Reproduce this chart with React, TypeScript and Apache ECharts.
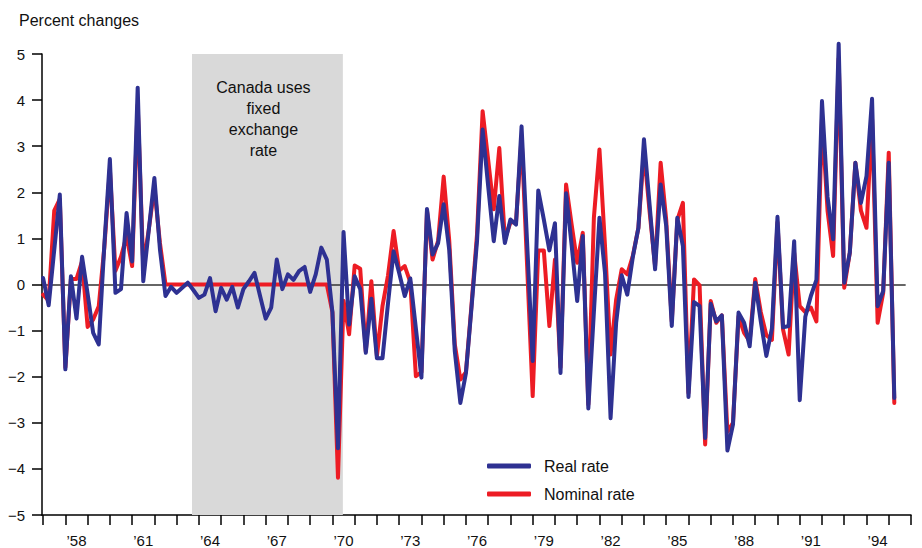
import React, { useEffect, useRef } from "react";
import * as echarts from "echarts";

const FONT = '"Liberation Sans", Arial, Helvetica, sans-serif';
const BLUE = "#2e3192";
const RED = "#ed1c24";

// Quarterly observations, first quarter 1957 onward
const FIRST_YEAR = 1957;

const realRate = [
  0.14, -0.45, 0.75, 1.95, -1.84, 0.18, -0.74, 0.6, -0.2, -1.05,
  -1.3, 0.85, 2.72, -0.18, -0.1, 1.55, 0.5, 4.27, 0.07, 1.19,
  2.31, 0.76, -0.25, -0.05, -0.18, -0.07, 0.04, -0.12, -0.29, -0.22,
  0.14, -0.58, -0.07, -0.33, -0.05, -0.5, -0.1, 0.07, 0.25, -0.25,
  -0.74, -0.5, 0.54, -0.1, 0.22, 0.1, 0.29, 0.38, -0.16, 0.22,
  0.8, 0.54, -0.6, -3.55, 1.14, -0.87, 0.18, -0.1, -1.48, -0.31,
  -1.6, -1.6, -0.4, 0.72, 0.25, -0.25, 0.13, -0.95, -2.02, 1.64,
  0.65, 0.9, 1.74, 0.75, -1.45, -2.57, -1.92, -0.5, 0.95, 3.36,
  2.13, 0.94, 1.92, 0.9, 1.41, 1.3, 3.43, 0.9, -1.66, 2.04,
  1.41, 0.74, 1.33, -1.92, 1.98, 0.85, -0.36, 1.05, -2.69, -0.6,
  1.45, 0.25, -2.9, -0.83, 0.2, -0.22, 0.6, 1.23, 3.15, 1.75,
  0.33, 2.17, 1.27, -0.9, 1.45, 0.83, -2.44, -0.38, -0.47, -3.33,
  -0.42, -0.8, -0.67, -3.6, -3.04, -0.61, -0.83, -1.34, 0.04, -0.8,
  -1.55, -0.95, 1.47, -0.93, -0.9, 0.94, -2.51, -0.7, -0.25, 0.1,
  3.98, 1.9, 0.98, 5.22, 0.04, 0.69, 2.64, 1.77, 2.35, 4.03,
  -0.47, -0.14, 2.64, -2.46,
];

const nominalRate = [
  -0.22, -0.35, 1.6, 1.85, -1.8, 0.12, 0.12, 0.5, -0.92, -0.76,
  -0.47, 0.8, 2.5, 0.3, 0.6, 1.05, 0.4, 3.9, 0.4, 1.2,
  2.1, 0.9, 0, 0, 0, 0, 0, 0, 0, 0,
  0, 0, 0, 0, 0, 0, 0, 0, 0, 0,
  0, 0, 0, 0, 0, 0, 0, 0, 0, 0,
  0, 0, -0.6, -4.19, -0.35, -1.08, 0.41, 0.34, -1.45, 0.07,
  -1.55, -0.47, 0.2, 1.16, 0.3, 0.4, 0.05, -1.99, -1.9, 1.6,
  0.54, 0.95, 2.34, 0.95, -1.3, -2.06, -1.9, -0.45, 1.1, 3.76,
  2.7, 1.63, 2.96, 0.98, 1.35, 1.35, 3.2, 0.4, -2.42, 0.74,
  0.74, -0.9, 0.54, -1.8, 2.17, 1.3, 0.47, 1.12, -2.6, 1.45,
  2.93, 0.83, -1.52, -0.33, 0.33, 0.22, 0.62, 1.23, 2.9, 1.6,
  0.4, 2.64, 1.4, -0.8, 1.4, 1.77, -2.35, 0.11, -0.02, -3.47,
  -0.36, -0.83, -0.67, -3.2, -3.0, -0.69, -1.05, -1.23, 0.12, -0.6,
  -1.1, -1.2, 1.35, -0.98, -1.52, 0.69, -0.47, -0.6, -0.5, -0.8,
  3.6, 1.6, 0.62, 4.9, -0.07, 0.69, 2.64, 1.6, 1.23, 3.6,
  -0.83, -0.18, 2.86, -2.57,
];

const tickYears = [
  1957, 1958, 1959, 1960, 1961, 1962, 1963, 1964, 1965, 1966,
  1967, 1968, 1969, 1970, 1971, 1972, 1973, 1974, 1975, 1976,
  1977, 1978, 1979, 1980, 1981, 1982, 1983, 1984, 1985, 1986,
  1987, 1988, 1989, 1990, 1991, 1992, 1993, 1994, 1995, 1996,
];
const labelYears = [1958, 1961, 1964, 1967, 1970, 1973, 1976, 1979, 1982, 1985, 1988, 1991, 1994];

const fixedRatePeriod = [1963.69, 1970.47];
const fixedRateNote = "Canada uses\nfixed\nexchange\nrate";

const X_MIN = 1956.95;
const X_MAX = 1996;

export default function App() {
  const ref = useRef<HTMLDivElement>(null);

  useEffect(() => {
    if (!ref.current) return;
    const chart = echarts.init(ref.current, null, { renderer: "svg" });
    const toPoints = (vals: number[]) => vals.map((v, i) => [FIRST_YEAR + i / 4, v]);
    const axisLine = { color: "#000", width: 1.5 };

    chart.setOption({
      animation: false,
      backgroundColor: "#ffffff",
      textStyle: { fontFamily: FONT },
      title: {
        text: "Percent changes",
        left: 14,
        top: 7,
        textStyle: { fontSize: 16, fontWeight: "normal", color: "#111", fontFamily: FONT },
      },
      grid: { left: 42, right: 11, top: 54, bottom: 33 },
      legend: {
        data: ["Real rate", "Nominal rate"],
        orient: "vertical",
        left: 487,
        top: 457,
        padding: 0,
        itemWidth: 44,
        itemHeight: 5,
        itemGap: 10,
        icon: "roundRect",
        selectedMode: false,
        textStyle: {
          fontSize: 16,
          color: "#111",
          fontFamily: FONT,
          lineHeight: 18,
          padding: [0, 0, 0, 8],
        },
      },
      xAxis: {
        type: "value",
        min: X_MIN,
        max: X_MAX,
        axisLine: { show: true, onZero: false, lineStyle: axisLine },
        axisTick: { show: true, length: 10, lineStyle: axisLine, customValues: tickYears },
        axisLabel: {
          customValues: labelYears.map((y) => y + 0.5),
          formatter: (v: number) => "\u2019" + String(Math.floor(v)).slice(2),
          fontSize: 15,
          color: "#111",
          margin: 18,
          fontFamily: FONT,
        },
        splitLine: { show: false },
      },
      yAxis: {
        type: "value",
        min: -5,
        max: 5,
        interval: 1,
        axisLine: { show: true, onZero: false, lineStyle: axisLine },
        axisTick: { show: true, length: 10, lineStyle: axisLine },
        axisLabel: {
          formatter: (v: number) => (v < 0 ? "\u2212" + Math.abs(v) : String(v)),
          fontSize: 15,
          color: "#111",
          margin: 17,
          fontFamily: FONT,
        },
        splitLine: { show: false },
      },
      series: [
        {
          type: "line",
          name: "shade",
          data: [],
          z: 1,
          silent: true,
          markArea: {
            z: 1,
            silent: true,
            itemStyle: { color: "#d9d9d9" },
            label: {
              show: true,
              position: "insideTop",
              distance: 23,
              offset: [-4, 0],
              fontSize: 16,
              lineHeight: 21,
              color: "#111",
              fontFamily: FONT,
              align: "center",
            },
            data: [[{ name: fixedRateNote, xAxis: fixedRatePeriod[0] }, { xAxis: fixedRatePeriod[1] }]],
          },
        },
        {
          type: "line",
          name: "zero",
          data: [],
          z: 2,
          silent: true,
          markLine: {
            z: 2,
            silent: true,
            symbol: ["none", "none"],
            label: { show: false },
            lineStyle: { color: "#333", width: 1.5, type: "solid" },
            data: [[{ coord: [X_MIN, 0] }, { coord: [1995.76, 0] }]],
          },
        },
        {
          type: "line",
          name: "Nominal rate",
          data: toPoints(nominalRate),
          symbol: "none",
          showSymbol: false,
          clip: false,
          z: 3,
          itemStyle: { color: RED },
          lineStyle: { color: RED, width: 4, join: "round", cap: "round" },
        },
        {
          type: "line",
          name: "Real rate",
          data: toPoints(realRate),
          symbol: "none",
          showSymbol: false,
          clip: false,
          z: 4,
          itemStyle: { color: BLUE },
          lineStyle: { color: BLUE, width: 4, join: "round", cap: "round" },
        },
      ],
    });

    return () => chart.dispose();
  }, []);

  return (
    <div
      ref={ref}
      style={{ position: "fixed", left: 0, top: 0, width: 922, height: 548, background: "#fff" }}
    />
  );
}
